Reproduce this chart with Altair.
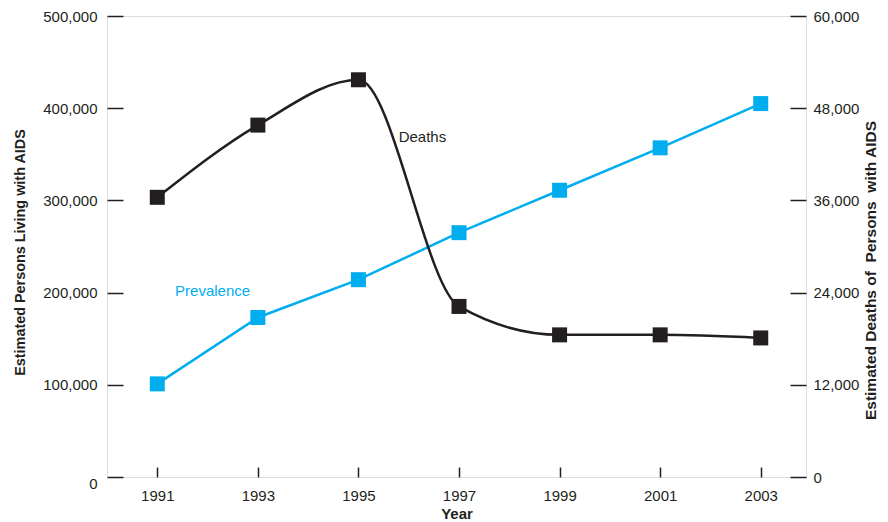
import altair as alt
import pandas as pd

# Data
years = [1991, 1993, 1995, 1997, 1999, 2001, 2003]
prevalence = [101000, 173000, 214000, 265000, 311000, 357000, 405000]
deaths = [36400, 45800, 51700, 22200, 18500, 18500, 18100]

x_ticks = [1991, 1993, 1995, 1997, 1999, 2001, 2003]
left_ticks = [0, 100000, 200000, 300000, 400000, 500000]
right_ticks = [0, 12000, 24000, 36000, 48000, 60000]

# Series labels (text, year, value)
prev_label = ["Prevalence", 1992.1, 202000]
death_label = ["Deaths", 1995.8, 44300]

BLUE = "#00aeef"
BLACK = "#231f20"
FONT = "Liberation Sans"

df = pd.DataFrame({"year": years, "prevalence": prevalence, "deaths": deaths})
lab_prev = pd.DataFrame({"text": [prev_label[0]], "year": [prev_label[1]], "value": [prev_label[2]]})
lab_death = pd.DataFrame({"text": [death_label[0]], "year": [death_label[1]], "value": [death_label[2]]})

xscale = alt.Scale(domain=[1990, 2003.9], nice=False, zero=False)
xaxis = alt.Axis(
    values=x_ticks, format="d", tickSize=10, offset=-10, domain=False, grid=False,
    labelPadding=11, labelFontSize=15, labelColor=BLACK, tickColor=BLACK, tickWidth=1.5,
    title="Year", titleFontSize=15, titleFontWeight="bold", titleColor=BLACK,
    titleX=349.5, titleY=46, titleBaseline="middle", titleAlign="center",
)
yl_scale = alt.Scale(domain=[0, 500000], nice=False)
yl_axis = alt.Axis(
    orient="left", values=left_ticks, format=",d", tickSize=16, offset=-16, domain=False, grid=False,
    labelPadding=10, labelFontSize=15, labelColor=BLACK, tickColor=BLACK, tickWidth=1.5,
    labelOffset={"condition": {"test": "datum.value === 0", "value": 6}, "value": 0},
    title="Estimated Persons Living with AIDS", titleFontSize=14.4, titleFontWeight="bold",
    titleColor=BLACK, titleAngle=270, titleX=-103, titleY=236, titleBaseline="middle", titleAlign="center",
)
yr_scale = alt.Scale(domain=[0, 60000], nice=False)
yr_axis = alt.Axis(
    orient="right", values=right_ticks, format=",d", tickSize=16, offset=-16, domain=False, grid=False,
    labelPadding=7, labelFontSize=15, labelColor=BLACK, tickColor=BLACK, tickWidth=1.5,
    title="Estimated Deaths of\u00a0 Persons\u00a0 with AIDS", titleFontSize=15.5,
    titleFontWeight="bold", titleColor=BLACK, titleAngle=270, titleX=80, titleY=254,
    titleBaseline="middle", titleAlign="center",
)

base = alt.Chart(df)
X = alt.X("year:Q", scale=xscale, axis=xaxis)

prev_line = base.mark_line(color=BLUE, strokeWidth=2.5).encode(
    x=X, y=alt.Y("prevalence:Q", scale=yl_scale, axis=yl_axis))
prev_pts = base.mark_point(shape="square", filled=True, size=225, color=BLUE, opacity=1).encode(
    x=X, y=alt.Y("prevalence:Q", scale=yl_scale, axis=yl_axis))
prev_txt = alt.Chart(lab_prev).mark_text(color=BLUE, fontSize=15, font=FONT, align="center", baseline="middle").encode(
    x=alt.X("year:Q", scale=xscale, axis=xaxis), y=alt.Y("value:Q", scale=yl_scale, axis=yl_axis), text="text:N")

death_line = base.mark_line(color=BLACK, strokeWidth=2.5, interpolate="monotone").encode(
    x=X, y=alt.Y("deaths:Q", scale=yr_scale, axis=yr_axis))
death_pts = base.mark_point(shape="square", filled=True, size=225, color=BLACK, opacity=1).encode(
    x=X, y=alt.Y("deaths:Q", scale=yr_scale, axis=yr_axis))
death_txt = alt.Chart(lab_death).mark_text(color=BLACK, fontSize=15, font=FONT, align="left", baseline="middle").encode(
    x=alt.X("year:Q", scale=xscale, axis=xaxis), y=alt.Y("value:Q", scale=yr_scale, axis=yr_axis), text="text:N")

left = alt.layer(prev_line, prev_pts, prev_txt)
right = alt.layer(death_line, death_pts, death_txt)

chart = alt.layer(left, right).resolve_scale(y="independent").properties(
    width=699, height=461,
    autosize=alt.AutoSizeParams(type="none"),
    padding={"left": 99, "top": 8, "right": 74, "bottom": 45},
    background="white",
).configure_view(stroke=BLACK, strokeWidth=1.5).configure(font=FONT)

chart.save("out.html", embed_options={"renderer": "svg", "actions": False})
